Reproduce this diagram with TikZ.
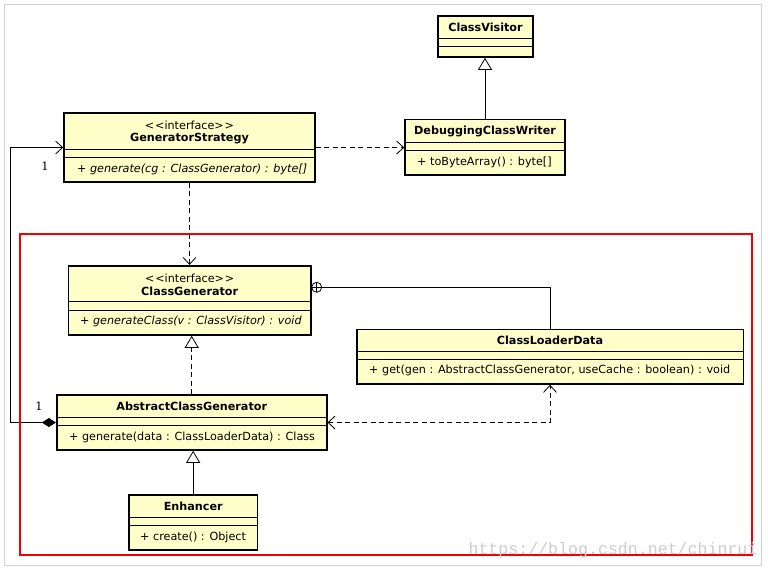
\documentclass[tikz,border=0pt]{standalone}
\usepackage{fontspec}
\setmainfont{DejaVu Sans}
\newfontfamily\multfont{DejaVu Serif}
\newfontfamily\wmfont{Liberation Mono}
\usetikzlibrary{arrows.meta,fit}

\definecolor{classfill}{RGB}{255,255,202}
\definecolor{markred}{RGB}{240,0,0}
\newcommand{\umlfont}{\fontsize{11.2}{13.5}\selectfont}
\newcommand{\stereotag}{\textless\kern0.8pt\textless interface\textgreater\kern0.8pt\textgreater}

\tikzset{
  cls/.style={draw, line width=1.6pt, fill=classfill, inner sep=0pt},
  sep/.style={line width=0.9pt},
  cname/.style={font=\umlfont\bfseries, inner sep=0pt},
  stereo/.style={font=\umlfont, inner sep=0pt},
  meth/.style={font=\umlfont, anchor=west, inner sep=0pt},
  imeth/.style={meth, font=\umlfont\itshape},
  mult/.style={font=\multfont\fontsize{11.5}{13}\selectfont, inner sep=0pt},
  conn/.style={line width=0.8pt},
  dep/.style={conn, dash pattern=on 5pt off 3.5pt, -{Straight Barb[length=7pt,width=13pt]}},
  both/.style={conn, dash pattern=on 5pt off 3.5pt, {Straight Barb[length=7pt,width=13pt]}-{Straight Barb[length=7pt,width=13pt]}},
  gen/.style={conn, -{Triangle[open, length=12pt, width=14pt, fill=white]}},
  real/.style={gen, dash pattern=on 5pt off 3.5pt},
  comp/.style={conn, {Diamond[length=14pt, width=9pt]}-{Straight Barb[length=7pt,width=13pt]}},
  nestmark/.style={circle, draw, line width=0.8pt, fill=white, minimum size=10pt, inner sep=0pt,
    path picture={\draw[line width=0.8pt] (path picture bounding box.north) -- (path picture bounding box.south)
      (path picture bounding box.west) -- (path picture bounding box.east);}},
  frame/.style={draw=black!18, line width=1pt},
  redframe/.style={draw=markred, line width=2pt},
  watermark/.style={font=\wmfont\fontsize{16.6}{18}\selectfont, text=black!20, inner sep=0pt}
}

% box with its two empty/operation separators
\newcommand{\umlclass}[7]{%
  \node[cls, fit={(#2,#3) (#4,#5)}] (#1) {};
  \draw[sep] (#2,#6) -- (#4,#6) (#2,#7) -- (#4,#7);
}

\begin{document}
\begin{tikzpicture}[x=1pt, y=-1pt]
\useasboundingbox (0,0) rectangle (770,571);
\draw[frame] (4.5,4.5) rectangle (761,565.5);

% classes
\umlclass{visitor}{438}{16}{533}{57}{38.5}{46.7}
\node[cname] (visitor-n) at (485.5,27.5) {ClassVisitor};

\umlclass{writer}{405}{119.5}{565}{175}{142.3}{150.3}
\node[cname] (writer-n) at (485,131) {DebuggingClassWriter};
\node[meth] (writer-m) at (417,162) {+ toByteArray() : byte[]};

\umlclass{gs}{64}{113}{315}{182}{149.7}{157}
\node[stereo] (gs-s) at (189.5,125.7) {\stereotag};
\node[cname] (gs-n) at (189.5,139) {GeneratorStrategy};
\node[imeth] (gs-m) at (77,169.5) {+ generate(cg : ClassGenerator) : byte[]};

\umlclass{cg}{68.3}{265.7}{311}{335}{301.7}{310.3}
\node[stereo] (cg-s) at (189.7,278.3) {\stereotag};
\node[cname] (cg-n) at (189.7,291.7) {ClassGenerator};
\node[imeth] (cg-m) at (80,321.5) {+ generateClass(v : ClassVisitor) : void};

\umlclass{cld}{356.7}{329.3}{743.3}{384}{351}{359.3}
\node[cname] (cld-n) at (550,340.7) {ClassLoaderData};
\node[meth] (cld-m) at (369,370.5) {+ get(gen : AbstractClassGenerator, useCache : boolean) : void};

\umlclass{acg}{56.7}{395}{326.7}{450}{417.3}{425}
\node[cname] (acg-n) at (191.7,406.7) {AbstractClassGenerator};
\node[meth] (acg-m) at (69,437) {+ generate(data : ClassLoaderData) : Class};

\umlclass{enh}{129}{495}{257.3}{550}{517.3}{525.3}
\node[cname] (enh-n) at (193.2,506.7) {Enhancer};
\node[meth] (enh-m) at (140,537) {+ create() : Object};

% relations
\draw[gen] (writer.north) -- (writer.north |- visitor.south);
\draw[dep] (gs.east) -- (gs.east -| writer.west);
\draw[dep] (gs.south) -- (gs.south |- cg.north);
\draw[real] (acg.north) -- (acg.north |- cg.south);
\draw[gen] (enh.north) -- (enh.north |- acg.south);
\node[nestmark] (nest) at (316.7,287.3) {};
\draw[conn] (nest.east) -| (cld.north);
\draw[both] (acg.east) -| (cld.south);
\draw[comp] (acg.west) -| ([xshift=-53pt]gs.west) -- (gs.west);
\node[mult] (gs-mult) at (45,166) {1};
\node[mult] (acg-mult) at (39,406.5) {1};

\draw[redframe] (20,234) rectangle (751.7,555);
\node[watermark] (wm) at (613,550) {https://blog.csdn.net/chinrui};
\end{tikzpicture}
\end{document}
